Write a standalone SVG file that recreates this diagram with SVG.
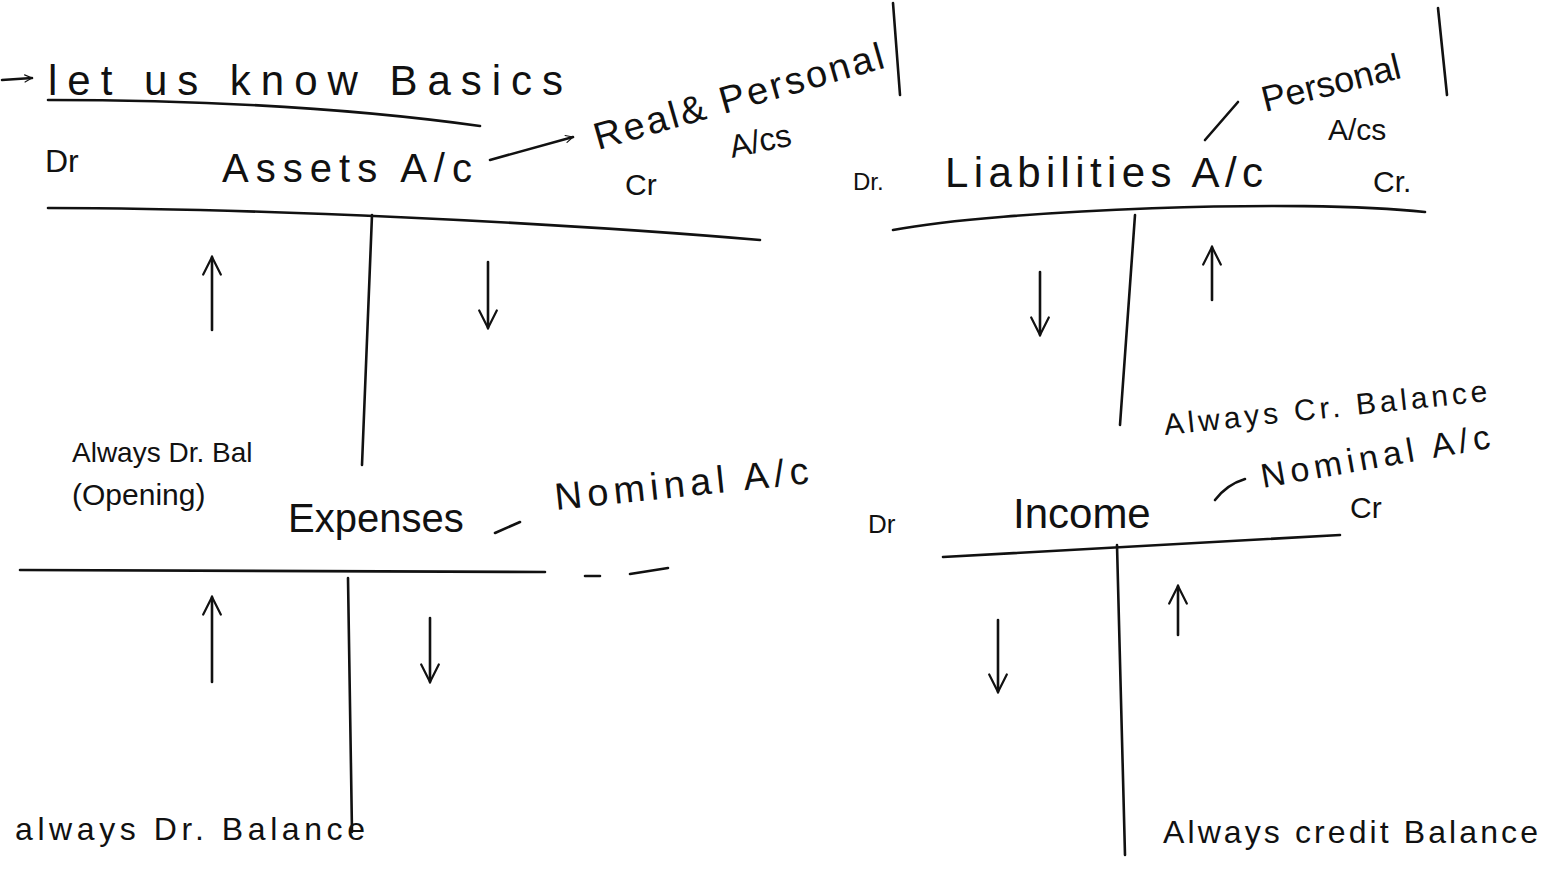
<svg xmlns="http://www.w3.org/2000/svg" width="1542" height="877" viewBox="0 0 1542 877">
<style>
.t{font-family:"Liberation Sans","DejaVu Sans",sans-serif;fill:#111}
.ln{stroke:#111;stroke-width:2.6;fill:none;stroke-linecap:round}
.ar{stroke:#111;stroke-width:2.6;fill:none;stroke-linecap:round}
</style>
<defs>
<marker id="ah" viewBox="0 0 20 20" refX="18" refY="10" markerWidth="9" markerHeight="9" orient="auto" markerUnits="userSpaceOnUse">
<path d="M2,2 L18,10 L2,18" fill="none" stroke="#111" stroke-width="2.5" stroke-linecap="round"/>
</marker>
<marker id="ahb" viewBox="0 0 20 20" refX="18" refY="10" markerWidth="22" markerHeight="22" orient="auto" markerUnits="userSpaceOnUse">
<path d="M2,2 L18,10 L2,18" fill="none" stroke="#111" stroke-width="2" stroke-linecap="round"/>
</marker>
</defs>
<rect width="1542" height="877" fill="#fff"/>

<g id="title">
<line class="ar" x1="2" y1="80" x2="32" y2="78" marker-end="url(#ah)"/>
<text class="t" x="48" y="95" font-size="42" textLength="515" lengthAdjust="spacing">let us know Basics</text>
</g>

<g id="assets">
<text class="t" x="45" y="172" font-size="32">Dr</text>
<text class="t" x="222" y="182" font-size="40" textLength="250" lengthAdjust="spacing">Assets A/c</text>
<text class="t" x="625" y="195" font-size="30">Cr</text>
<line class="ln" x1="372" y1="215" x2="362" y2="465"/>
<line class="ar" x1="212" y1="330" x2="212" y2="257" marker-end="url(#ahb)"/>
<line class="ar" x1="488" y1="262" x2="488" y2="328" marker-end="url(#ahb)"/>
<text class="t" x="72" y="462" font-size="28">Always Dr. Bal</text>
<text class="t" x="72" y="505" font-size="30">(Opening)</text>
</g>

<g id="real-personal">
<text class="t" x="598" y="150" font-size="38" transform="rotate(-16 598 150)" textLength="300" lengthAdjust="spacing">Real&amp; Personal</text>
<text class="t" x="732" y="158" font-size="32" transform="rotate(-12 732 158)">A/cs</text>
<line class="ln" x1="893" y1="3" x2="900" y2="95"/>
</g>

<g id="liabilities">
<text class="t" x="853" y="190" font-size="24">Dr.</text>
<text class="t" x="945" y="187" font-size="42" textLength="318" lengthAdjust="spacing">Liabilities A/c</text>
<text class="t" x="1373" y="192" font-size="30">Cr.</text>
<line class="ln" x1="1135" y1="215" x2="1120" y2="425"/>
<line class="ar" x1="1040" y1="272" x2="1040" y2="335" marker-end="url(#ahb)"/>
<line class="ar" x1="1212" y1="300" x2="1212" y2="247" marker-end="url(#ahb)"/>
<text class="t" x="1165" y="435" font-size="30" transform="rotate(-6 1165 435)" textLength="325" lengthAdjust="spacing">Always Cr. Balance</text>
</g>

<g id="personal">
<text class="t" x="1265" y="112" font-size="36" transform="rotate(-14 1265 112)">Personal</text>
<text class="t" x="1328" y="140" font-size="30">A/cs</text>
<line class="ln" x1="1438" y1="8" x2="1447" y2="95"/>
</g>

<g id="expenses">
<text class="t" x="288" y="532" font-size="40">Expenses</text>
<text class="t" x="556" y="510" font-size="38" transform="rotate(-6 556 510)" textLength="255" lengthAdjust="spacing">Nominal A/c</text>
<line class="ln" x1="348" y1="578" x2="352" y2="832"/>
<line class="ar" x1="212" y1="682" x2="212" y2="597" marker-end="url(#ahb)"/>
<line class="ar" x1="430" y1="618" x2="430" y2="682" marker-end="url(#ahb)"/>
<text class="t" x="15" y="840" font-size="32" textLength="350" lengthAdjust="spacing">always Dr. Balance</text>
</g>

<g id="income">
<text class="t" x="868" y="533" font-size="26">Dr</text>
<text class="t" x="1013" y="528" font-size="42">Income</text>
<text class="t" x="1350" y="518" font-size="30">Cr</text>
<text class="t" x="1263" y="488" font-size="34" transform="rotate(-10 1263 488)" textLength="232" lengthAdjust="spacing">Nominal A/c</text>
<line class="ln" x1="1117" y1="545" x2="1125" y2="855"/>
<line class="ar" x1="998" y1="620" x2="998" y2="692" marker-end="url(#ahb)"/>
<line class="ar" x1="1178" y1="635" x2="1178" y2="586" marker-end="url(#ahb)"/>
<text class="t" x="1163" y="843" font-size="32" textLength="375" lengthAdjust="spacing">Always credit Balance</text>
</g>

<g id="connectors">
<path class="ln" d="M48,100 C200,100 350,108 480,126"/>
<line class="ar" x1="490" y1="160" x2="573" y2="137" marker-end="url(#ah)"/>
<path class="ln" d="M48,208 C250,208 550,222 760,240"/>
<path class="ln" d="M893,230 C1000,210 1300,198 1425,212"/>
<path class="ln" d="M1205,140 L1238,102"/>
<path class="ln" d="M20,570 L545,572"/>
<path class="ln" d="M585,576 L600,576 M630,574 L668,568"/>
<path class="ln" d="M495,533 L520,522"/>
<path class="ln" d="M943,557 C1100,548 1250,540 1340,535"/>
<path class="ln" d="M1215,500 C1225,487 1235,482 1245,479"/>
</g>
</svg>
